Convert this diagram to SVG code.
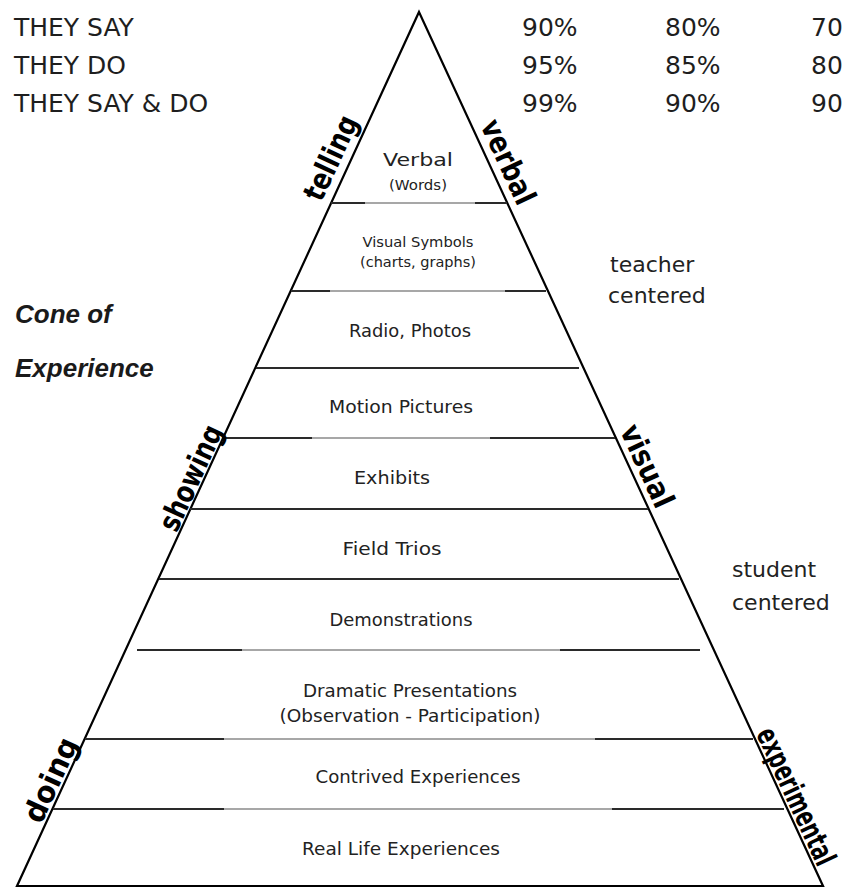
<svg xmlns="http://www.w3.org/2000/svg" width="844" height="890" viewBox="0 0 844 890">
<style>
.hdr{font-family:"DejaVu Sans",sans-serif;font-size:25px;fill:#1e1e1e}
.lbl{font-family:"DejaVu Sans",sans-serif;font-size:17px;fill:#222;text-anchor:middle}
.sm{font-size:13.5px}
.side{font-family:"DejaVu Sans",sans-serif;font-size:22px;fill:#222}
.rot{font-family:"DejaVu Sans",sans-serif;font-weight:bold;font-size:30px;fill:#000;text-anchor:middle}
.title{font-family:"Liberation Sans",Arial,sans-serif;font-weight:bold;font-style:italic;font-size:26px;fill:#1a1a1a}
.edge{stroke:#000;stroke-width:2.2;fill:none;stroke-linejoin:miter}
.lt{stroke:#8a8a8a;stroke-width:1.4}
.dk{stroke:#2a2a2a;stroke-width:2}
</style>
<rect width="844" height="890" fill="#fff"/>

<g id="header">
<text class="hdr" x="14" y="36">THEY SAY</text>
<text class="hdr" x="14" y="74">THEY DO</text>
<text class="hdr" x="14" y="112">THEY SAY &amp; DO</text>
<text class="hdr" x="522" y="36">90%</text>
<text class="hdr" x="665" y="36">80%</text>
<text class="hdr" x="811" y="36">70</text>
<text class="hdr" x="522" y="74">95%</text>
<text class="hdr" x="665" y="74">85%</text>
<text class="hdr" x="811" y="74">80</text>
<text class="hdr" x="522" y="112">99%</text>
<text class="hdr" x="665" y="112">90%</text>
<text class="hdr" x="811" y="112">90</text>
</g>

<g id="title">
<text class="title" x="15" y="323">Cone of</text>
<text class="title" x="15" y="377">Experience</text>
</g>

<g id="side-notes">
<text class="side" x="610" y="272">teacher</text>
<text class="side" x="608" y="303">centered</text>
<text class="side" x="732" y="577">student</text>
<text class="side" x="732" y="610">centered</text>
</g>

<g id="connectors">
<polygon class="edge" points="419,12 823,886 17,886"/>
<g id="tier-lines">
<line class="lt" x1="331" y1="203" x2="507" y2="203"/>
<line class="dk" x1="331" y1="203" x2="365" y2="203"/><line class="dk" x1="475" y1="203" x2="507" y2="203"/>
<line class="lt" x1="291" y1="291" x2="546" y2="291"/>
<line class="dk" x1="291" y1="291" x2="330" y2="291"/><line class="dk" x1="505" y1="291" x2="546" y2="291"/>
<line class="dk" x1="256" y1="368" x2="579" y2="368"/>
<line class="lt" x1="223" y1="438" x2="615" y2="438"/>
<line class="dk" x1="223" y1="438" x2="312" y2="438"/><line class="dk" x1="490" y1="438" x2="615" y2="438"/>
<line class="dk" x1="190" y1="509" x2="648" y2="509"/>
<line class="dk" x1="159" y1="579" x2="679" y2="579"/>
<line class="lt" x1="137" y1="650" x2="700" y2="650"/>
<line class="dk" x1="137" y1="650" x2="242" y2="650"/><line class="dk" x1="560" y1="650" x2="700" y2="650"/>
<line class="lt" x1="85" y1="739" x2="753" y2="739"/>
<line class="dk" x1="85" y1="739" x2="224" y2="739"/><line class="dk" x1="595" y1="739" x2="753" y2="739"/>
<line class="lt" x1="53" y1="809" x2="784" y2="809"/>
<line class="dk" x1="53" y1="809" x2="224" y2="809"/><line class="dk" x1="612" y1="809" x2="784" y2="809"/>
</g>
</g>

<g id="tier-verbal">
<text class="lbl" x="418" y="166" font-size="21" textLength="70" lengthAdjust="spacingAndGlyphs">Verbal</text>
<text class="lbl sm" x="418" y="190" textLength="58" lengthAdjust="spacingAndGlyphs">(Words)</text>
</g>
<g id="tier-visual-symbols">
<text class="lbl sm" x="418" y="247" textLength="111" lengthAdjust="spacingAndGlyphs">Visual  Symbols</text>
<text class="lbl sm" x="418" y="267" textLength="116" lengthAdjust="spacingAndGlyphs">(charts, graphs)</text>
</g>
<g id="tier-radio">
<text class="lbl" x="410" y="337" textLength="122" lengthAdjust="spacingAndGlyphs">Radio, Photos</text>
</g>
<g id="tier-motion">
<text class="lbl" x="401" y="413" textLength="144" lengthAdjust="spacingAndGlyphs">Motion Pictures</text>
</g>
<g id="tier-exhibits">
<text class="lbl" x="392" y="484" textLength="76" lengthAdjust="spacingAndGlyphs">Exhibits</text>
</g>
<g id="tier-field">
<text class="lbl" x="392" y="555" textLength="99" lengthAdjust="spacingAndGlyphs">Field Trios</text>
</g>
<g id="tier-demonstrations">
<text class="lbl" x="401" y="626" textLength="143" lengthAdjust="spacingAndGlyphs">Demonstrations</text>
</g>
<g id="tier-dramatic">
<text class="lbl" x="410" y="697" textLength="214" lengthAdjust="spacingAndGlyphs">Dramatic Presentations</text>
<text class="lbl" x="410" y="722" textLength="261" lengthAdjust="spacingAndGlyphs">(Observation - Participation)</text>
</g>
<g id="tier-contrived">
<text class="lbl" x="418" y="783" textLength="205" lengthAdjust="spacingAndGlyphs">Contrived Experiences</text>
</g>
<g id="tier-real-life">
<text class="lbl" x="401" y="855" textLength="198" lengthAdjust="spacingAndGlyphs">Real Life Experiences</text>
</g>

<g id="edge-labels">
<text class="rot" transform="translate(331,158) rotate(-65.3)" x="0" y="10" textLength="90" lengthAdjust="spacingAndGlyphs">telling</text>
<text class="rot" transform="translate(508,162) rotate(65.2)" x="0" y="10" textLength="90" lengthAdjust="spacingAndGlyphs">verbal</text>
<text class="rot" transform="translate(191,478) rotate(-65.3)" x="0" y="10" textLength="113" lengthAdjust="spacingAndGlyphs">showing</text>
<text class="rot" transform="translate(647,466) rotate(65.2)" x="0" y="10" textLength="88" lengthAdjust="spacingAndGlyphs">visual</text>
<text class="rot" transform="translate(51,780) rotate(-65.3)" x="0" y="10" textLength="90" lengthAdjust="spacingAndGlyphs">doing</text>
<text class="rot" transform="translate(795,797) rotate(65.2)" x="0" y="9" font-size="26" textLength="148" lengthAdjust="spacingAndGlyphs">experimental</text>
</g>
</svg>
